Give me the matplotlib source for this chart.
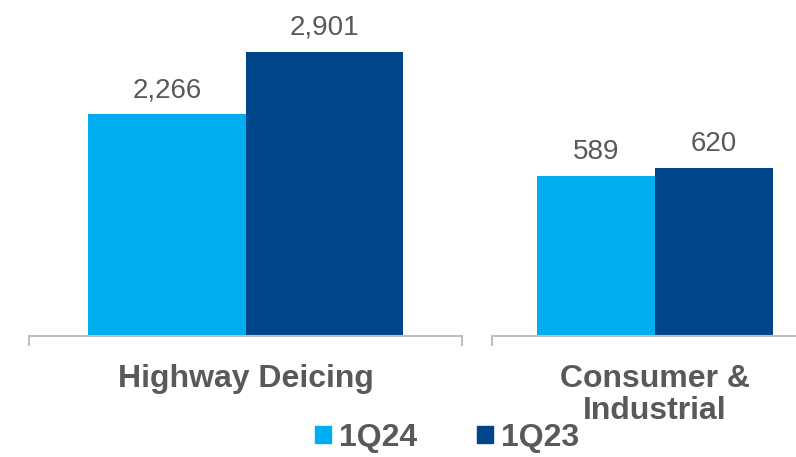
import matplotlib
matplotlib.use("Agg")
import matplotlib.pyplot as plt
from matplotlib.patches import Patch

plt.rcParams['font.family'] = ['Liberation Sans', 'DejaVu Sans']

categories = ["Highway Deicing", "Consumer &\nIndustrial"]
series_names = ["1Q24", "1Q23"]
values_1q24 = [2266, 589]
values_1q23 = [2901, 620]
label_1q24 = ["2,266", "589"]
label_1q23 = ["2,901", "620"]

c_light = "#00AEEF"
c_dark = "#004489"
txt = "#595959"
axis_col = "#BFBFBF"

W, H = 796, 457
fig = plt.figure(figsize=(W / 100, H / 100), dpi=100)

# axes extents in pixels (left, right), baseline
panels = [(29, 462), (492, 818)]
base_y = 336
ymax_scale = [2901 * base_y / 284, 620 * base_y / 168]
bw = 0.363

for i, (x0, x1) in enumerate(panels):
    ax = fig.add_axes([x0 / W, 1 - base_y / H, (x1 - x0) / W, base_y / H])
    ax.set_xlim(-0.5, 0.5)
    ax.set_ylim(0, ymax_scale[i])
    b1 = ax.bar([-bw / 2], [values_1q24[i]], width=bw, color=c_light)
    b2 = ax.bar([bw / 2], [values_1q23[i]], width=bw, color=c_dark)
    ax.bar_label(b1, labels=[label_1q24[i]], padding=8, fontsize=20, color=txt)
    ax.bar_label(b2, labels=[label_1q23[i]], padding=8, fontsize=20, color=txt)
    for s in ["top", "left", "right"]:
        ax.spines[s].set_visible(False)
    ax.spines["bottom"].set_color(axis_col)
    ax.spines["bottom"].set_linewidth(1.5)
    ax.set_yticks([])
    ax.set_xticks([-0.5, 0.5])
    ax.set_xticklabels([])
    ax.tick_params(axis="x", direction="out", length=7.5, width=1.5, color=axis_col)
    ax.text(0, -28 / base_y, categories[i], transform=ax.get_xaxis_transform(),
            ha="center", va="top", fontsize=23, fontweight="bold", color=txt,
            linespacing=1.1)
    ax.patch.set_alpha(0)

handles = [Patch(color=c_light), Patch(color=c_dark)]
leg = fig.legend(handles, series_names, loc="lower center", bbox_to_anchor=(0.5616, -0.026),
                 ncol=2, frameon=False, handlelength=0.5, handleheight=0.47,
                 handletextpad=0.25, columnspacing=1.85, borderpad=0,
                 prop={"size": 23, "weight": "bold"})
for t in leg.get_texts():
    t.set_color(txt)

fig.savefig("out.png", dpi=100)
